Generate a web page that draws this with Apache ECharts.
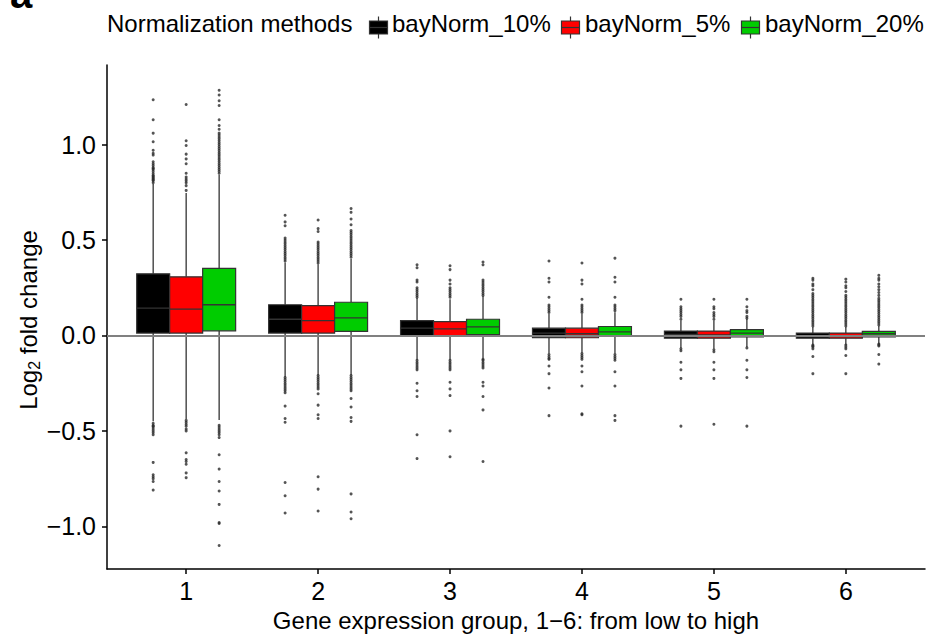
<!DOCTYPE html>
<html>
<head>
<meta charset="utf-8">
<script src="https://cdn.jsdelivr.net/npm/echarts@6/dist/echarts.min.js"></script>
<style>
  html, body { margin: 0; padding: 0; background: #fff; }
  #chart { width: 926px; height: 637px; }
</style>
</head>
<body>
<div id="chart"></div>
<script>
// Expression groups (x categories) and normalization methods
const groups = ['1', '2', '3', '4', '5', '6'];
const methods = ['bayNorm_10%', 'bayNorm_5%', 'bayNorm_20%'];
const methodColors = ['#000000', '#ff0000', '#00cc00'];
const yTicks = [-1, -0.5, 0, 0.5, 1];

// Box statistics per group: [lower whisker, Q1, median, Q3, upper whisker]
const box10 = [
  [-0.450, 0.0125, 0.143, 0.323, 0.794],
  [-0.217, 0.0125, 0.085, 0.161, 0.382],
  [-0.127, -0.003, 0.038, 0.078, 0.196],
  [-0.095, -0.012, 0.0125, 0.038, 0.113],
  [-0.066, -0.014, 0.005, 0.023, 0.078],
  [-0.049, -0.014, -0.001, 0.0125, 0.044]
];
const box5 = [
  [-0.4375, 0.0125, 0.1375, 0.307, 0.747],
  [-0.208, 0.0125, 0.078, 0.156, 0.373],
  [-0.127, -0.003, 0.035, 0.073, 0.190],
  [-0.090, -0.012, 0.009, 0.038, 0.113],
  [-0.070, -0.014, 0.003, 0.023, 0.078],
  [-0.049, -0.014, -0.002, 0.0125, 0.044]
];
const box20 = [
  [-0.443, 0.0245, 0.161, 0.351, 0.842],
  [-0.208, 0.021, 0.092, 0.174, 0.400],
  [-0.121, 0.004, 0.045, 0.085, 0.205],
  [-0.095, -0.005, 0.019, 0.047, 0.122],
  [-0.060, -0.007, 0.0125, 0.031, 0.087],
  [-0.045, -0.007, 0.009, 0.021, 0.050]
];

// Outlying values per group
const out10 = [
  [0.80, 0.81, 0.815, 0.82, 0.825, 0.83, 0.835, 0.84, 0.85, 0.86, 0.87, 0.875, 0.88, 0.89, 0.90, 0.91, 0.945, 0.955, 0.97, 1.015, 1.06, 1.13, 1.235,
   -0.46, -0.47, -0.475, -0.48, -0.49, -0.50, -0.51, -0.52, -0.665, -0.73, -0.74, -0.75, -0.765, -0.81],
  [0.39, 0.40, 0.41, 0.42, 0.43, 0.44, 0.45, 0.46, 0.47, 0.48, 0.49, 0.50, 0.51, 0.575, 0.595, 0.63,
   -0.22, -0.23, -0.24, -0.25, -0.26, -0.27, -0.28, -0.29, -0.30, -0.37, -0.435, -0.455, -0.77, -0.84, -0.93],
  [0.20, 0.21, 0.22, 0.23, 0.24, 0.25, 0.28, 0.29, 0.355, 0.37,
   -0.13, -0.14, -0.15, -0.16, -0.17, -0.18, -0.25, -0.29, -0.32, -0.52, -0.645],
  [0.12, 0.13, 0.14, 0.15, 0.16, 0.20, 0.28, 0.30, 0.39,
   -0.10, -0.11, -0.12, -0.125, -0.16, -0.20, -0.275, -0.42],
  [0.085, 0.10, 0.11, 0.12, 0.13, 0.14, 0.15, 0.19,
   -0.07, -0.08, -0.14, -0.18, -0.225, -0.475],
  [0.05, 0.06, 0.07, 0.08, 0.09, 0.10, 0.11, 0.12, 0.13, 0.14, 0.15, 0.16, 0.17, 0.18, 0.19, 0.20, 0.21, 0.22, 0.24, 0.26, 0.27, 0.29, 0.30,
   -0.05, -0.055, -0.06, -0.07, -0.11, -0.20]
];
const out5 = [
  [0.76, 0.785, 0.80, 0.81, 0.82, 0.83, 0.85, 0.90, 0.925, 0.95, 0.995, 1.02, 1.21,
   -0.445, -0.455, -0.465, -0.475, -0.49, -0.50, -0.615, -0.65, -0.66, -0.675, -0.72, -0.745],
  [0.38, 0.39, 0.40, 0.41, 0.42, 0.43, 0.44, 0.45, 0.46, 0.47, 0.48, 0.49, 0.545, 0.56, 0.605,
   -0.21, -0.22, -0.23, -0.24, -0.25, -0.26, -0.27, -0.28, -0.305, -0.365, -0.415, -0.435, -0.74, -0.805, -0.92],
  [0.20, 0.21, 0.22, 0.23, 0.24, 0.25, 0.27, 0.29, 0.345, 0.365,
   -0.13, -0.14, -0.15, -0.16, -0.17, -0.18, -0.245, -0.28, -0.315, -0.50, -0.635],
  [0.12, 0.13, 0.14, 0.15, 0.16, 0.19, 0.27, 0.29, 0.38,
   -0.095, -0.105, -0.115, -0.125, -0.16, -0.19, -0.265, -0.41, -0.415],
  [0.085, 0.10, 0.11, 0.12, 0.14, 0.15, 0.19,
   -0.075, -0.085, -0.14, -0.18, -0.225, -0.465],
  [0.05, 0.06, 0.07, 0.08, 0.09, 0.10, 0.11, 0.12, 0.13, 0.14, 0.15, 0.16, 0.17, 0.18, 0.19, 0.20, 0.21, 0.23, 0.25, 0.26, 0.28, 0.295,
   -0.05, -0.06, -0.07, -0.105, -0.20]
];
const out20 = [
  [0.85, 0.86, 0.87, 0.88, 0.89, 0.90, 0.91, 0.92, 0.93, 0.94, 0.95, 0.96, 0.97, 0.98, 0.99, 1.00, 1.01, 1.02, 1.03, 1.04, 1.05, 1.06, 1.08, 1.10, 1.13, 1.205, 1.23, 1.26, 1.285,
   -0.47, -0.48, -0.49, -0.50, -0.51, -0.52, -0.535, -0.625, -0.70, -0.765, -0.815, -0.885, -0.98, -0.985, -1.10],
  [0.41, 0.42, 0.43, 0.44, 0.45, 0.46, 0.47, 0.48, 0.49, 0.50, 0.51, 0.52, 0.53, 0.54, 0.55, 0.58, 0.61, 0.645, 0.665,
   -0.21, -0.22, -0.23, -0.24, -0.25, -0.26, -0.27, -0.28, -0.29, -0.33, -0.375, -0.43, -0.45, -0.83, -0.925, -0.96],
  [0.21, 0.22, 0.23, 0.24, 0.25, 0.26, 0.27, 0.28, 0.29, 0.37, 0.385,
   -0.125, -0.13, -0.14, -0.15, -0.16, -0.17, -0.245, -0.265, -0.32, -0.39, -0.66],
  [0.13, 0.14, 0.15, 0.16, 0.20, 0.28, 0.305, 0.405,
   -0.10, -0.11, -0.12, -0.13, -0.19, -0.265, -0.42, -0.445],
  [0.09, 0.10, 0.12, 0.13, 0.15, 0.19,
   -0.065, -0.13, -0.18, -0.22, -0.475],
  [0.055, 0.065, 0.075, 0.085, 0.095, 0.105, 0.115, 0.125, 0.135, 0.145, 0.155, 0.165, 0.175, 0.185, 0.195, 0.21, 0.225, 0.24, 0.255, 0.27, 0.29, 0.30, 0.315,
   -0.045, -0.05, -0.055, -0.10, -0.15]
];

const FONT = '"Liberation Sans", Arial, Helvetica, sans-serif';
const BOX_W = 0.25;              // box width in x-axis units
const OFFSETS = [-0.25, 0, 0.25]; // dodge offset of each method inside a group
const EDGE = '#333333';

function boxSeries(idx, stats) {
  const color = methodColors[idx];
  const off = OFFSETS[idx];
  return {
    type: 'custom',
    name: methods[idx],
    z: 3,
    itemStyle: { color: color },
    data: stats.map((s, i) => [i + 1].concat(s)),
    encode: { x: 0, y: [1, 2, 3, 4, 5] },
    renderItem: function (params, api) {
      const x = api.value(0) + off;
      const w = api.size([BOX_W, 0])[0];
      const lo = api.coord([x, api.value(1)]);
      const q1 = api.coord([x, api.value(2)]);
      const md = api.coord([x, api.value(3)]);
      const q3 = api.coord([x, api.value(4)]);
      const hi = api.coord([x, api.value(5)]);
      const ls = { stroke: EDGE, lineWidth: 1.3 };
      return {
        type: 'group',
        children: [
          { type: 'line', shape: { x1: lo[0], y1: lo[1], x2: q1[0], y2: q1[1] }, style: ls },
          { type: 'line', shape: { x1: q3[0], y1: q3[1], x2: hi[0], y2: hi[1] }, style: ls },
          { type: 'rect', shape: { x: q3[0] - w / 2, y: q3[1], width: w, height: q1[1] - q3[1] },
            style: { fill: color, stroke: EDGE, lineWidth: 1.2 } },
          { type: 'line', shape: { x1: md[0] - w / 2, y1: md[1], x2: md[0] + w / 2, y2: md[1] }, style: ls }
        ]
      };
    }
  };
}

function outlierSeries(idx, outs) {
  const pts = [];
  outs.forEach((vals, g) => vals.forEach(v => pts.push([g + 1 + OFFSETS[idx], v])));
  return {
    type: 'scatter',
    name: methods[idx] + ' outliers',
    z: 4,
    symbol: 'circle',
    symbolSize: 3,
    itemStyle: { color: '#2a2a2a' },
    silent: true,
    data: pts
  };
}

// Legend: title followed by a small box glyph and label per method
const legendKeys = [367, 559, 739];
const legendTexts = [392, 585, 765];
const LEG_Y = 25;
const legendGraphics = [
  { type: 'text', left: 107, top: LEG_Y - 14,
    style: { text: 'Normalization methods', font: '24px ' + FONT, fill: '#000' } }
];
methods.forEach((m, i) => {
  const kx = legendKeys[i];
  legendGraphics.push({
    type: 'group', left: kx, top: LEG_Y - 11,
    children: [
      { type: 'line', shape: { x1: 9.5, y1: 0, x2: 9.5, y2: 22 }, style: { stroke: EDGE, lineWidth: 1.2 } },
      { type: 'rect', shape: { x: 0.5, y: 4.5, width: 18, height: 13 }, style: { fill: methodColors[i], stroke: EDGE, lineWidth: 1.2 } },
      { type: 'line', shape: { x1: 0.5, y1: 11, x2: 18.5, y2: 11 }, style: { stroke: EDGE, lineWidth: 1.2 } }
    ]
  });
  legendGraphics.push({
    type: 'text', left: legendTexts[i], top: LEG_Y - 14,
    style: { text: m, font: '24px ' + FONT, fill: '#000' }
  });
});

const chart = echarts.init(document.getElementById('chart'), null, { renderer: 'svg' });

const option = {
  animation: false,
  backgroundColor: '#ffffff',
  textStyle: { fontFamily: FONT },
  grid: { left: 107, right: 1, top: 65, bottom: 65, containLabel: false },
  xAxis: {
    type: 'value',
    min: 0.4,
    max: 6.6,
    name: 'Gene expression group, 1\u22126: from low to high',
    nameLocation: 'middle',
    nameGap: 38,
    nameTextStyle: { fontSize: 24, color: '#000', fontFamily: FONT },
    splitLine: { show: false },
    axisLine: { onZero: false, lineStyle: { color: '#000', width: 1.5 } },
    axisTick: { show: true, length: 5, lineStyle: { color: '#000', width: 1.5 }, customValues: [1, 2, 3, 4, 5, 6] },
    axisLabel: {
      customValues: [1, 2, 3, 4, 5, 6],
      formatter: v => groups[Math.round(v) - 1],
      fontSize: 25, color: '#000', margin: 9, fontFamily: FONT
    }
  },
  yAxis: {
    type: 'value',
    min: -1.224,
    max: 1.417,
    splitLine: { show: false },
    axisLine: { show: true, onZero: false, lineStyle: { color: '#000', width: 1.5 } },
    axisTick: { show: true, length: 5, lineStyle: { color: '#000', width: 1.5 }, customValues: yTicks },
    axisLabel: {
      customValues: yTicks,
      formatter: v => v.toFixed(1).replace('-', '\u2212'),
      fontSize: 25, color: '#000', margin: 11, fontFamily: FONT
    }
  },
  graphic: [
    { type: 'text', left: 10, top: -26,
      style: { text: 'a', font: 'bold 40px ' + FONT, fill: '#000' } },
    { type: 'text', x: 28, y: 320, rotation: Math.PI / 2,
      style: {
        text: '{b|Log}{s|2}{b| fold change}',
        align: 'center', verticalAlign: 'middle',
        rich: {
          b: { fontSize: 24, fontFamily: FONT, fill: '#000', lineHeight: 28 },
          s: { fontSize: 16, fontFamily: FONT, fill: '#000', lineHeight: 14, verticalAlign: 'bottom' }
        }
      } }
  ].concat(legendGraphics),
  series: [
    {
      type: 'line', name: 'zero', data: [], z: 1, silent: true,
      markLine: {
        silent: true, symbol: 'none', label: { show: false },
        lineStyle: { color: '#808080', width: 2, type: 'solid' },
        data: [{ yAxis: 0 }]
      }
    },
    boxSeries(0, box10), boxSeries(1, box5), boxSeries(2, box20),
    outlierSeries(0, out10), outlierSeries(1, out5), outlierSeries(2, out20)
  ]
};

chart.setOption(option);
</script>
</body>
</html>
